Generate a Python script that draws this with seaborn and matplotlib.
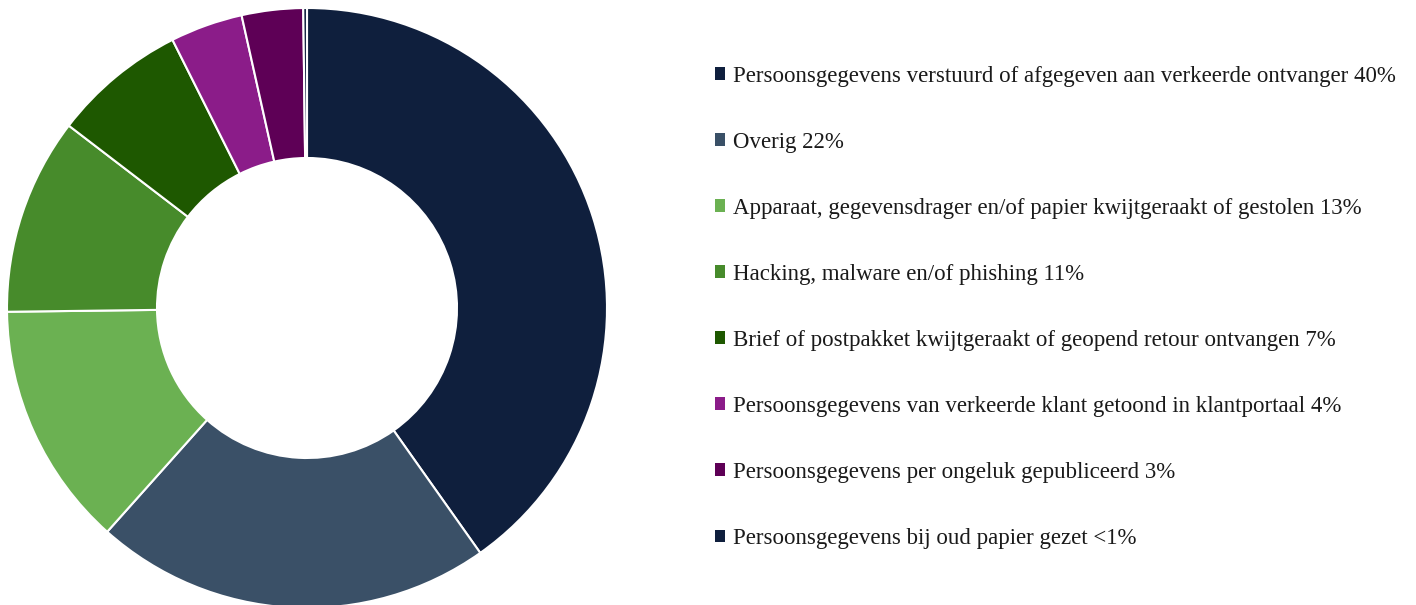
import matplotlib
matplotlib.use("Agg")
import matplotlib.pyplot as plt
import matplotlib.patches as mpatches
import seaborn as sns

categories = [
    "Persoonsgegevens verstuurd of afgegeven aan verkeerde ontvanger",
    "Overig",
    "Apparaat, gegevensdrager en/of papier kwijtgeraakt of gestolen",
    "Hacking, malware en/of phishing",
    "Brief of postpakket kwijtgeraakt of geopend retour ontvangen",
    "Persoonsgegevens van verkeerde klant getoond in klantportaal",
    "Persoonsgegevens per ongeluk gepubliceerd",
    "Persoonsgegevens bij oud papier gezet",
]
shares = [40.2, 21.4, 13.2, 10.6, 7.2, 3.9, 3.3, 0.2]
pct_labels = ["40%", "22%", "13%", "11%", "7%", "4%", "3%", "<1%"]
colors = ["#0f1f3d", "#3a5067", "#6bb152", "#478b2b", "#1e5800",
          "#8b1c89", "#5e0056", "#0f1f3d"]

sns.set_theme(style="white")
plt.rcParams["font.family"] = ["Liberation Serif", "DejaVu Serif"]

fig = plt.figure(figsize=(14.16, 6.05), dpi=100)
ax = fig.add_axes([7 / 1416, -3 / 605, 600 / 1416, 600 / 605])
ax.pie(shares, colors=colors, startangle=90, counterclock=False,
       radius=1.0,
       wedgeprops=dict(width=0.5, edgecolor="white", linewidth=1.5))
ax.set_xlim(-1, 1)
ax.set_ylim(-1, 1)
ax.set_aspect("equal")
ax.axis("off")

handles = [mpatches.Patch(facecolor=c, edgecolor="none") for c in colors]
labels = [f"{c} {p}" for c, p in zip(categories, pct_labels)]
leg = fig.legend(handles, labels, loc="upper left",
                 bbox_to_anchor=(694 / 1416, 1 - 45 / 605),
                 frameon=False, fontsize=16.5, labelspacing=1.965,
                 handlelength=0.45, handleheight=0.45, handletextpad=0.35)
for t in leg.get_texts():
    t.set_color("#1a1a1a")

fig.savefig("out.png", dpi=100, facecolor="white")
